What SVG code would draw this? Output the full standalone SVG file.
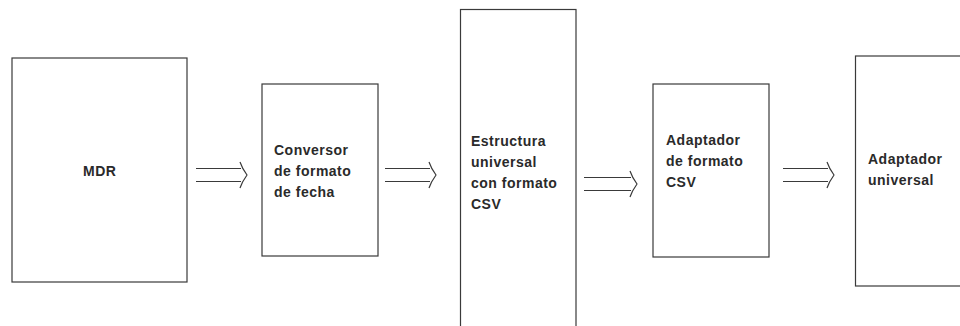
<svg xmlns="http://www.w3.org/2000/svg" width="960" height="326" viewBox="0 0 960 326">
<style>
.box{fill:#fff;stroke:#3a3a3a;stroke-width:1.2}
.lbl{font-family:"Liberation Sans",Arial,sans-serif;font-weight:bold;font-size:14px;letter-spacing:0.5px;fill:#2a2a2a}
.arr{fill:none;stroke:#3a3a3a;stroke-width:1.2}
</style>
<rect width="960" height="326" fill="#fff"/>
<g id="node-mdr">
<rect class="box" x="12" y="58" width="175" height="224"/>
<text class="lbl" x="83" y="176">MDR</text>
</g>
<g id="node-conversor">
<rect class="box" x="262" y="84" width="116" height="172"/>
<text class="lbl" x="274" y="155">Conversor</text>
<text class="lbl" x="274" y="176">de formato</text>
<text class="lbl" x="274" y="197">de fecha</text>
</g>
<g id="node-estructura">
<rect class="box" x="460.5" y="9.5" width="115.5" height="330"/>
<text class="lbl" x="471" y="146">Estructura</text>
<text class="lbl" x="471" y="167">universal</text>
<text class="lbl" x="471" y="188">con formato</text>
<text class="lbl" x="471" y="209">CSV</text>
</g>
<g id="node-adaptador-csv">
<rect class="box" x="653" y="84" width="116" height="173"/>
<text class="lbl" x="666" y="145">Adaptador</text>
<text class="lbl" x="666" y="166">de formato</text>
<text class="lbl" x="666" y="187">CSV</text>
</g>
<g id="node-adaptador-universal">
<rect class="box" x="855.5" y="56" width="120" height="230"/>
<text class="lbl" x="868" y="164">Adaptador</text>
<text class="lbl" x="868" y="185">universal</text>
</g>
<g id="connectors">
<path class="arr" d="M196,168.5 H241 M196,181.5 H241 M240,162 Q242,168 247,175 Q242,182 240,188"/>
<path class="arr" d="M385,168.5 H430 M385,181.5 H430 M429,162 Q431,168 436,175 Q431,182 429,188"/>
<path class="arr" d="M584,177.5 H631 M584,190.5 H631 M630,171 Q632,177 637,184 Q632,191 630,197"/>
<path class="arr" d="M783,168.5 H828 M783,181.5 H828 M827,162 Q829,168 834,175 Q829,182 827,188"/>
</g>
</svg>
